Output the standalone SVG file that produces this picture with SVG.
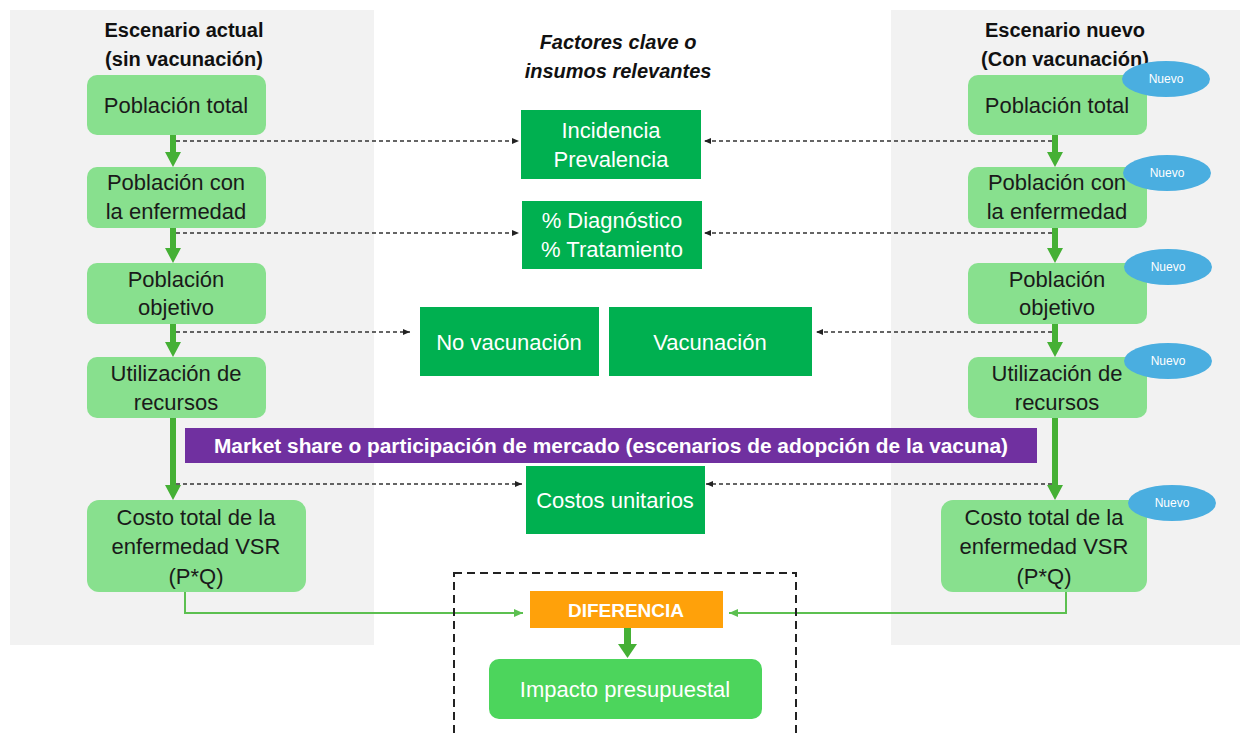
<svg xmlns="http://www.w3.org/2000/svg" width="1240" height="738" viewBox="0 0 1240 738">
<style>
.panel{fill:#F2F2F2}
.lbox{fill:#88E08E}
.fbox{fill:#00B050}
.t{font-family:"Liberation Sans",Arial,sans-serif;font-size:22px;fill:#1a1a1a;text-anchor:middle}
.tw{font-family:"Liberation Sans",Arial,sans-serif;font-size:22px;fill:#ffffff;text-anchor:middle}
.tb{font-family:"Liberation Sans",Arial,sans-serif;font-size:19px;font-weight:bold;fill:#ffffff;text-anchor:middle}
.title{font-family:"Liberation Sans",Arial,sans-serif;font-size:20px;font-weight:bold;fill:#111;text-anchor:middle}
.nuevo{fill:#4AAEE0}
.nt{font-family:"Liberation Sans",Arial,sans-serif;font-size:12px;fill:#ffffff;text-anchor:middle}
.dash{stroke:#333;stroke-width:1.3;stroke-dasharray:4 3;fill:none}
.garrow{fill:#45B035}
.gline{stroke:#5CC050;stroke-width:2;fill:none}
</style>
<defs>
<marker id="ah" markerWidth="8" markerHeight="8" refX="7" refY="4" orient="auto" markerUnits="userSpaceOnUse">
<path d="M0,1 L7,4 L0,7 Z" fill="#222"/>
</marker>
<marker id="gh" markerWidth="10" markerHeight="10" refX="9" refY="5" orient="auto" markerUnits="userSpaceOnUse">
<path d="M0,1 L9,5 L0,9 Z" fill="#5CC050"/>
</marker>
</defs>
<rect width="1240" height="738" fill="#ffffff"/>
<rect class="panel" x="10" y="10" width="364" height="635"/>
<rect class="panel" x="891" y="10" width="349" height="635"/>

<g id="title-left">
<text class="title" x="184" y="37">Escenario actual</text>
<text class="title" x="184" y="66">(sin vacunación)</text>
</g>
<g id="title-center">
<text class="title" x="618" y="49" font-style="italic">Factores clave o</text>
<text class="title" x="618" y="78" font-style="italic">insumos relevantes</text>
</g>
<g id="title-right">
<text class="title" x="1065" y="37">Escenario nuevo</text>
<text class="title" x="1065" y="66">(Con vacunación)</text>
</g>

<g id="connectors">
<rect class="garrow" x="170" y="135" width="6" height="18"/>
<path class="garrow" d="M165,152 L181,152 L173,167 Z"/>
<rect class="garrow" x="170" y="228" width="6" height="21"/>
<path class="garrow" d="M165,248 L181,248 L173,263 Z"/>
<rect class="garrow" x="170" y="324" width="6" height="19"/>
<path class="garrow" d="M165,342 L181,342 L173,357 Z"/>
<rect class="garrow" x="170" y="418" width="6" height="68"/>
<path class="garrow" d="M165,485 L181,485 L173,500 Z"/>
<rect class="garrow" x="1052" y="135" width="6" height="18"/>
<path class="garrow" d="M1047,152 L1063,152 L1055,167 Z"/>
<rect class="garrow" x="1052" y="228" width="6" height="21"/>
<path class="garrow" d="M1047,248 L1063,248 L1055,263 Z"/>
<rect class="garrow" x="1052" y="324" width="6" height="19"/>
<path class="garrow" d="M1047,342 L1063,342 L1055,357 Z"/>
<rect class="garrow" x="1052" y="418" width="6" height="68"/>
<path class="garrow" d="M1047,485 L1063,485 L1055,500 Z"/>
<line class="dash" x1="176" y1="141" x2="519" y2="141" marker-end="url(#ah)"/>
<line class="dash" x1="176" y1="233" x2="519" y2="233" marker-end="url(#ah)"/>
<line class="dash" x1="176" y1="332" x2="410" y2="332" marker-end="url(#ah)"/>
<line class="dash" x1="176" y1="484" x2="522" y2="484" marker-end="url(#ah)"/>
<line class="dash" x1="1052" y1="141" x2="704" y2="141" marker-end="url(#ah)"/>
<line class="dash" x1="1052" y1="233" x2="704" y2="233" marker-end="url(#ah)"/>
<line class="dash" x1="1052" y1="332" x2="816" y2="332" marker-end="url(#ah)"/>
<line class="dash" x1="1052" y1="484" x2="706" y2="484" marker-end="url(#ah)"/>
<polyline class="gline" points="185,592 185,613 523,613" marker-end="url(#gh)"/>
<polyline class="gline" points="1066,592 1066,613 729,613" marker-end="url(#gh)"/>
<rect class="garrow" x="624" y="628" width="7" height="17"/>
<path class="garrow" d="M618,644 L637,644 L627.5,658 Z"/>
</g>

<rect x="454" y="573" width="342" height="180" fill="none" stroke="#222" stroke-width="2" stroke-dasharray="8 5"/>

<g id="l1"><rect class="lbox" x="87" y="75" width="179" height="60" rx="10"/><text class="t" x="176" y="113">Población total</text></g>
<g id="l2"><rect class="lbox" x="87" y="167" width="179" height="61" rx="10"/><text class="t" x="176" y="190">Población con</text><text class="t" x="176" y="219">la enfermedad</text></g>
<g id="l3"><rect class="lbox" x="87" y="263" width="179" height="61" rx="10"/><text class="t" x="176" y="287">Población</text><text class="t" x="176" y="315">objetivo</text></g>
<g id="l4"><rect class="lbox" x="87" y="357" width="179" height="61" rx="10"/><text class="t" x="176" y="381">Utilización de</text><text class="t" x="176" y="410">recursos</text></g>
<g id="l5"><rect class="lbox" x="87" y="500" width="219" height="92" rx="12"/><text class="t" x="196" y="525">Costo total de la</text><text class="t" x="196" y="554">enfermedad VSR</text><text class="t" x="196" y="584">(P*Q)</text></g>

<g id="r1"><rect class="lbox" x="968" y="75" width="179" height="60" rx="10"/><text class="t" x="1057" y="113">Población total</text></g>
<g id="r2"><rect class="lbox" x="968" y="167" width="179" height="61" rx="10"/><text class="t" x="1057" y="190">Población con</text><text class="t" x="1057" y="219">la enfermedad</text></g>
<g id="r3"><rect class="lbox" x="968" y="263" width="179" height="61" rx="10"/><text class="t" x="1057" y="287">Población</text><text class="t" x="1057" y="315">objetivo</text></g>
<g id="r4"><rect class="lbox" x="968" y="357" width="179" height="61" rx="10"/><text class="t" x="1057" y="381">Utilización de</text><text class="t" x="1057" y="410">recursos</text></g>
<g id="r5"><rect class="lbox" x="941" y="500" width="206" height="92" rx="12"/><text class="t" x="1044" y="525">Costo total de la</text><text class="t" x="1044" y="554">enfermedad VSR</text><text class="t" x="1044" y="584">(P*Q)</text></g>

<g id="n1"><ellipse class="nuevo" cx="1166" cy="79" rx="44" ry="18"/><text class="nt" x="1166" y="83">Nuevo</text></g>
<g id="n2"><ellipse class="nuevo" cx="1167" cy="173" rx="44" ry="18"/><text class="nt" x="1167" y="177">Nuevo</text></g>
<g id="n3"><ellipse class="nuevo" cx="1168" cy="267" rx="44" ry="18"/><text class="nt" x="1168" y="271">Nuevo</text></g>
<g id="n4"><ellipse class="nuevo" cx="1168" cy="361" rx="44" ry="18"/><text class="nt" x="1168" y="365">Nuevo</text></g>
<g id="n5"><ellipse class="nuevo" cx="1172" cy="503" rx="44" ry="18"/><text class="nt" x="1172" y="507">Nuevo</text></g>

<g id="f1"><rect class="fbox" x="521" y="110" width="180" height="69"/><text class="tw" x="611" y="138">Incidencia</text><text class="tw" x="611" y="167">Prevalencia</text></g>
<g id="f2"><rect class="fbox" x="522" y="201" width="180" height="68"/><text class="tw" x="612" y="228">% Diagnóstico</text><text class="tw" x="612" y="257">% Tratamiento</text></g>
<g id="f3"><rect class="fbox" x="420" y="307" width="179" height="69"/><text class="tw" x="509" y="350">No vacunación</text></g>
<g id="f4"><rect class="fbox" x="609" y="307" width="203" height="69"/><text class="tw" x="710" y="350">Vacunación</text></g>
<g id="market"><rect x="185" y="428" width="852" height="35" fill="#7030A0"/><text class="tb" x="611" y="453" style="font-size:20px" textLength="794" lengthAdjust="spacingAndGlyphs">Market share o participación de mercado (escenarios de adopción de la vacuna)</text></g>
<g id="f5"><rect class="fbox" x="526" y="466" width="179" height="68"/><text class="tw" x="615" y="508">Costos unitarios</text></g>
<g id="dif"><rect x="530" y="591" width="193" height="37" fill="#FFA10A"/><text class="tb" x="626" y="617">DIFERENCIA</text></g>
<g id="impacto"><rect x="489" y="659" width="273" height="60" rx="10" fill="#4CD55C"/><text class="tw" x="625" y="697">Impacto presupuestal</text></g>
</svg>
